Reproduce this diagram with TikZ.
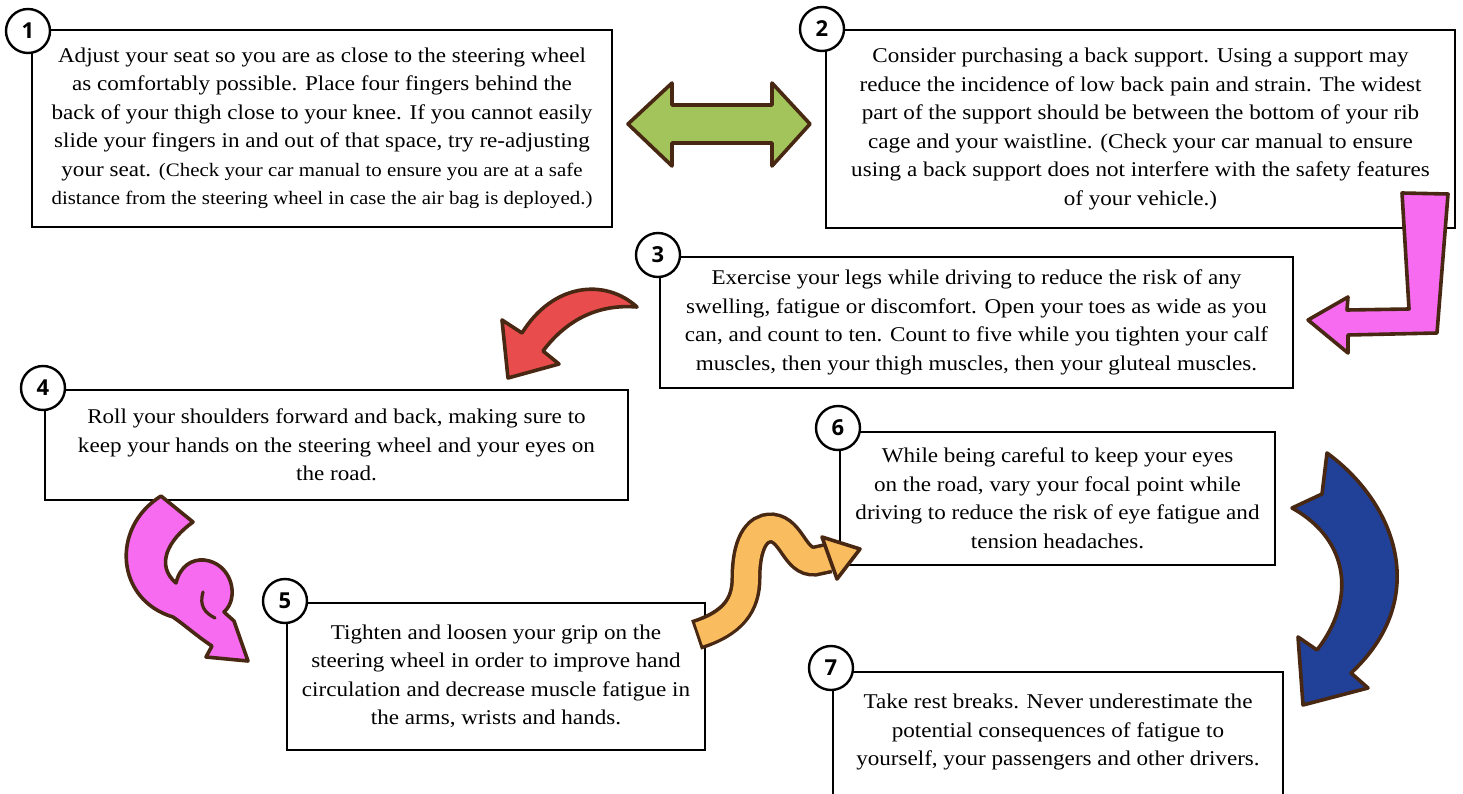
\documentclass[tikz,border=0pt]{standalone}
\usepackage{fontspec}
\setmainfont{Liberation Serif}[FakeStretch=1.1]
\newfontfamily\numfont{Open Sans}
\definecolor{outl}{RGB}{72,40,18}
\definecolor{agreen}{RGB}{162,196,90}
\definecolor{apink}{RGB}{247,107,240}
\definecolor{ared}{RGB}{233,76,76}
\definecolor{aorange}{RGB}{249,188,94}
\definecolor{ablue}{RGB}{33,64,152}
\newcommand{\smalltxt}{\fontsize{19}{27}\selectfont}
\begin{document}
\begin{tikzpicture}[x=1pt,y=-1pt,
  box/.style={draw=black, line width=2.6pt, fill=white, align=center, inner sep=0pt, outer sep=0pt,
    font=\fontsize{21}{28.5}\selectfont},
  txt/.style={align=center, inner sep=0pt, font=\fontsize{21}{28.5}\selectfont},
  boxline/.style={draw=black, line width=2.6pt},
  num/.style={circle, draw=black, line width=2.4pt, fill=white, minimum size=44pt, inner sep=0pt,
    font=\numfont\bfseries\fontsize{22}{22}\selectfont},
  arrowshape/.style={draw=outl, line width=3.6pt, line join=round}]
\useasboundingbox (0,0) rectangle (1463,794);
\clip (0,0) rectangle (1463,794);
\fill[white] (0,0) rectangle (1463,794);

% boxes
\node[box, minimum width=580pt, minimum height=197pt] (b1) at (322,128.5)
  {Adjust your seat so you are as close to the steering wheel\\
   as comfortably possible. Place four fingers behind the\\
   back of your thigh close to your knee. If you cannot easily\\
   slide your fingers in and out of that space, try re-adjusting\\
   your seat. {\smalltxt (Check your car manual to ensure you are at a safe}\\
   {\smalltxt distance from the steering wheel in case the air bag is deployed.)}};
\node[box, minimum width=629pt, minimum height=198pt] (b2) at (1140.5,129)
  {Consider purchasing a back support. Using a support may\\
   reduce the incidence of low back pain and strain. The widest\\
   part of the support should be between the bottom of your rib\\
   cage and your waistline. (Check your car manual to ensure\\
   using a back support does not interfere with the safety features\\
   of your vehicle.)};
\node[box, minimum width=633pt, minimum height=131pt] (b3) at (976.5,322.5)
  {Exercise your legs while driving to reduce the risk of any\\
   swelling, fatigue or discomfort. Open your toes as wide as you\\
   can, and count to ten. Count to five while you tighten your calf\\
   muscles, then your thigh muscles, then your gluteal muscles.};
\node[box, minimum width=583pt, minimum height=110pt] (b4) at (336.5,445)
  {Roll your shoulders forward and back, making sure to\\
   keep your hands on the steering wheel and your eyes on\\
   the road.};
\node[box, minimum width=418pt, minimum height=147pt] (b5) at (496,676.5)
  {Tighten and loosen your grip on the\\
   steering wheel in order to improve hand\\
   circulation and decrease muscle fatigue in\\
   the arms, wrists and hands.};
\node[box, minimum width=435pt, minimum height=133pt] (b6) at (1057.5,498.5)
  {While being careful to keep your eyes\\
   on the road, vary your focal point while\\
   driving to reduce the risk of eye fatigue and\\
   tension headaches.};
\draw[boxline] (833,810) -- (833,672) -- (1283,672) -- (1283,810);
\node[txt] (t7) at (1058,732)
  {Take rest breaks. Never underestimate the\\
   potential consequences of fatigue to\\
   yourself, your passengers and other drivers.};

% number circles
\node[num] (n1) at (28,31) {1};
\node[num] (n2) at (822,29) {2};
\node[num] (n3) at (658,255) {3};
\node[num] (n4) at (43,388) {4};
\node[num] (n5) at (285,601) {5};
\node[num] (n6) at (838,428) {6};
\node[num] (n7) at (831,668) {7};

% green double arrow
\draw[arrowshape, fill=agreen] (628,124) -- (672,83) -- (672,105) -- (772,105) -- (772,83)
  -- (810,124) -- (772,166) -- (772,143) -- (672,143) -- (672,166) -- cycle;

% pink L arrow
\draw[arrowshape, fill=apink] (1402,193) -- (1448,194) -- (1437,333) -- (1348,335) -- (1348,353)
  -- (1308,320) -- (1348,297) -- (1347,310) -- (1409,309) -- cycle;

% red curved arrow
\draw[arrowshape, fill=ared] (637,307) .. controls (605,278) and (553,283) .. (522,333)
  -- (502,320) -- (508,378) -- (559,364) -- (543,351)
  .. controls (568,318) and (600,304) .. (637,307) -- cycle;

% pink curly arrow
\draw[arrowshape, fill=apink] (161,496) -- (193,522)
  .. controls (168,540) and (155,565) .. (176,583)
  .. controls (180,566) and (192,559) .. (204,560)
  .. controls (232,563) and (240,598) .. (224,612)
  -- (234,621) -- (248,661) -- (206,657) -- (212,646)
  .. controls (198,637) and (186,626) .. (173,617)
  .. controls (116,600) and (110,528) .. (161,496) -- cycle;
\draw[draw=outl, line width=3.2pt, line cap=round] (203,592) .. controls (199,606) and (205,613) .. (215,618);

% orange wiggle arrow
\draw[draw=outl, line width=31pt, line cap=butt, shorten <=-3pt]
  (699,634) .. controls (733,623) and (746,605) .. (746,578)
  .. controls (746,545) and (756,527) .. (772,528)
  .. controls (792,530) and (795,563) .. (815,561) -- (829,558);
\draw[draw=aorange, line width=24pt, line cap=butt]
  (699,634) .. controls (733,623) and (746,605) .. (746,578)
  .. controls (746,545) and (756,527) .. (772,528)
  .. controls (792,530) and (795,563) .. (815,561) -- (829,558);
\draw[arrowshape, fill=aorange] (822,537) -- (860,549) -- (837,579) -- cycle;

% blue arrow
\draw[arrowshape, fill=ablue] (1327,453) .. controls (1398,505) and (1430,600) .. (1351,673)
  -- (1368,688) -- (1303,705) -- (1298,637) -- (1317,650)
  .. controls (1356,600) and (1350,540) .. (1292,508) -- (1322,494) -- cycle;
\end{tikzpicture}
\end{document}
